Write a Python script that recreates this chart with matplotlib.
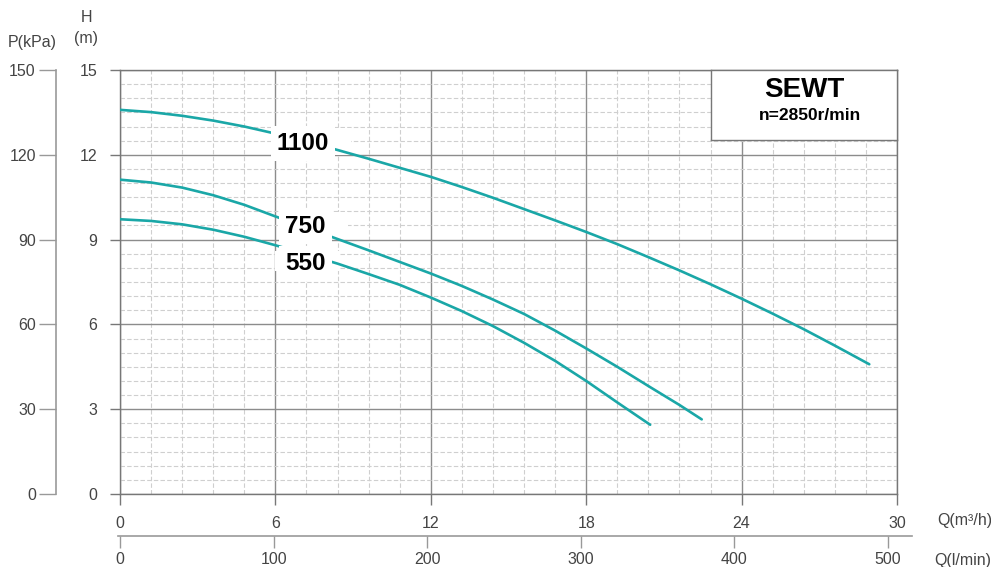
import matplotlib
matplotlib.use("Agg")
import matplotlib.pyplot as plt
from matplotlib.ticker import MultipleLocator
from matplotlib.patches import Rectangle

plt.rcParams['font.family'] = ['Liberation Sans', 'DejaVu Sans']

# ---- data ----
q_1100 = [0, 1.2, 2.4, 3.6, 4.8, 6, 7.2, 8.4, 9.6, 10.8, 12, 13.2, 14.4, 15.6, 16.8,
          18, 19.2, 20.4, 21.6, 22.8, 24, 25.2, 26.4, 27.6, 28.93]
h_1100 = [13.59, 13.51, 13.38, 13.21, 13.0, 12.75, 12.47, 12.17, 11.86, 11.54, 11.22,
          10.86, 10.48, 10.08, 9.68, 9.27, 8.84, 8.38, 7.91, 7.42, 6.91, 6.38, 5.83, 5.25, 4.59]
q_750 = [0, 1.2, 2.4, 3.6, 4.8, 6, 7.2, 8.4, 9.6, 10.8, 12, 13.2, 14.4, 15.6, 16.8,
         18, 19.2, 20.4, 21.6, 22.46]
h_750 = [11.12, 11.02, 10.84, 10.57, 10.23, 9.82, 9.42, 9.02, 8.62, 8.21, 7.8, 7.36, 6.88,
         6.37, 5.78, 5.15, 4.5, 3.82, 3.15, 2.64]
q_550 = [0, 1.2, 2.4, 3.6, 4.8, 6, 7.2, 8.4, 9.6, 10.8, 12, 13.2, 14.4, 15.6, 16.8,
         18, 19.2, 20.47]
h_550 = [9.72, 9.66, 9.54, 9.35, 9.1, 8.8, 8.48, 8.15, 7.78, 7.4, 6.95, 6.47, 5.94,
         5.35, 4.71, 4.0, 3.24, 2.45]
curve_labels = ["1100", "750", "550"]
q_ticks = [0, 6, 12, 18, 24, 30]
h_ticks = [0, 3, 6, 9, 12, 15]
p_ticks = [0, 30, 60, 90, 120, 150]
lmin_ticks = [0, 100, 200, 300, 400, 500]

# label placement (style): text anchor (Q, H) and grid-hiding white box (Q0, Q1, H0, H1)
label_pos = [(6.05, 12.39), (6.38, 9.47), (6.38, 8.14)]
label_box = [(5.9, 8.9, 12.0, 12.95), (6.1, 8.8, 9.05, 9.98), (6.0, 8.5, 7.9, 8.6)]

W, H = 991, 567
fig = plt.figure(figsize=(W / 100, H / 100), dpi=100)

def px(x0, y0, x1, y1):
    return [x0 / W, 1 - y1 / H, (x1 - x0) / W, (y1 - y0) / H]

curve_color = "#1aa7a7"
txt_color = "#444444"
major_c = "#8c8c8c"
minor_c = "#cfcfcf"

ax = fig.add_axes(px(120, 70, 897, 494))
ax.set_xlim(0, 30)
ax.set_ylim(0, 15)
ax.xaxis.set_major_locator(MultipleLocator(6))
ax.xaxis.set_minor_locator(MultipleLocator(1.2))
ax.yaxis.set_major_locator(MultipleLocator(3))
ax.yaxis.set_minor_locator(MultipleLocator(0.5))
ax.grid(which='major', color=major_c, lw=1.0)
ax.grid(which='minor', color=minor_c, lw=0.8, ls=(0, (4, 2)))
ax.set_axisbelow(True)
for s in ax.spines.values():
    s.set_color("#777777")
    s.set_linewidth(1.0)
ax.set_xticks(q_ticks)
ax.set_yticks(h_ticks)
ax.tick_params(which='minor', length=0)
ax.tick_params(axis='x', which='major', direction='out', length=8, width=1,
               color="#777777", labelsize=11.5, labelcolor=txt_color, pad=8)
ax.tick_params(axis='y', which='major', direction='out', length=7.5, width=1,
               color="#777777", labelsize=11.5, labelcolor=txt_color, pad=9)

for (q0, q1, hh0, hh1) in label_box:
    ax.add_patch(Rectangle((q0, hh0), q1 - q0, hh1 - hh0, facecolor='white',
                           edgecolor='none', zorder=1.5))

ax.plot(q_1100, h_1100, color=curve_color, lw=1.9, solid_capstyle='round', zorder=3)
ax.plot(q_750, h_750, color=curve_color, lw=1.9, solid_capstyle='round', zorder=3)
ax.plot(q_550, h_550, color=curve_color, lw=1.9, solid_capstyle='round', zorder=3)

for lab, (x, y) in zip(curve_labels, label_pos):
    ax.text(x, y, lab, fontsize=17.5, fontweight='bold', color='black',
            ha='left', va='center',
            bbox=dict(facecolor='white', edgecolor='none', boxstyle='square,pad=0.25'),
            zorder=5)

# title box
box_ax = fig.add_axes(px(711, 70, 897, 140))
box_ax.set_xticks([]); box_ax.set_yticks([])
for s in box_ax.spines.values():
    s.set_color("#777777"); s.set_linewidth(1.0)
box_ax.text(0.5, 0.71, "SEWT", fontsize=20, fontweight='bold', ha='center', va='center',
            transform=box_ax.transAxes)
box_ax.text(0.53, 0.35, "n=2850r/min", fontsize=12.5, fontweight='bold', ha='center',
            va='center', transform=box_ax.transAxes)

# pressure axis
pax = fig.add_axes(px(56, 70, 57, 494))
pax.set_ylim(0, 150)
pax.set_xticks([])
pax.set_yticks(p_ticks)
for k in ['top', 'right', 'bottom']:
    pax.spines[k].set_visible(False)
pax.spines['left'].set_color("#999999")
pax.spines['left'].set_linewidth(1.2)
pax.tick_params(axis='y', direction='out', length=12, width=1, color="#999999",
                labelsize=11.5, labelcolor=txt_color, pad=2.5)
pax.patch.set_alpha(0)

# l/min axis (0 at px 120, 500 at px 888)
x0p, x1p = 118, 912
scale = (888 - 120) / 500.0
lax = fig.add_axes(px(x0p, 535, x1p, 536))
lax.set_xlim((x0p - 120) / scale, (x1p - 120) / scale)
lax.set_yticks([])
lax.set_xticks(lmin_ticks)
for k in ['top', 'right', 'left']:
    lax.spines[k].set_visible(False)
lax.spines['bottom'].set_color("#999999")
lax.spines['bottom'].set_linewidth(1.2)
lax.tick_params(axis='x', direction='out', length=8.5, width=1, color="#999999",
                labelsize=11.5, labelcolor=txt_color, pad=3)
lax.patch.set_alpha(0)

# axis titles
fig.text(32 / W, 1 - 42 / H, "P(kPa)", fontsize=11.5, color=txt_color, ha='center', va='center')
fig.text(86 / W, 1 - 18 / H, "H", fontsize=11.5, color=txt_color, ha='center', va='center')
fig.text(86 / W, 1 - 38 / H, "(m)", fontsize=11.5, color=txt_color, ha='center', va='center')
fig.text(937 / W, 1 - 520 / H, "Q(m³/h)", fontsize=11.5, color=txt_color, ha='left', va='center')
fig.text(934 / W, 1 - 560 / H, "Q(l/min)", fontsize=11.5, color=txt_color, ha='left', va='center')

fig.savefig("out.png", dpi=100)
